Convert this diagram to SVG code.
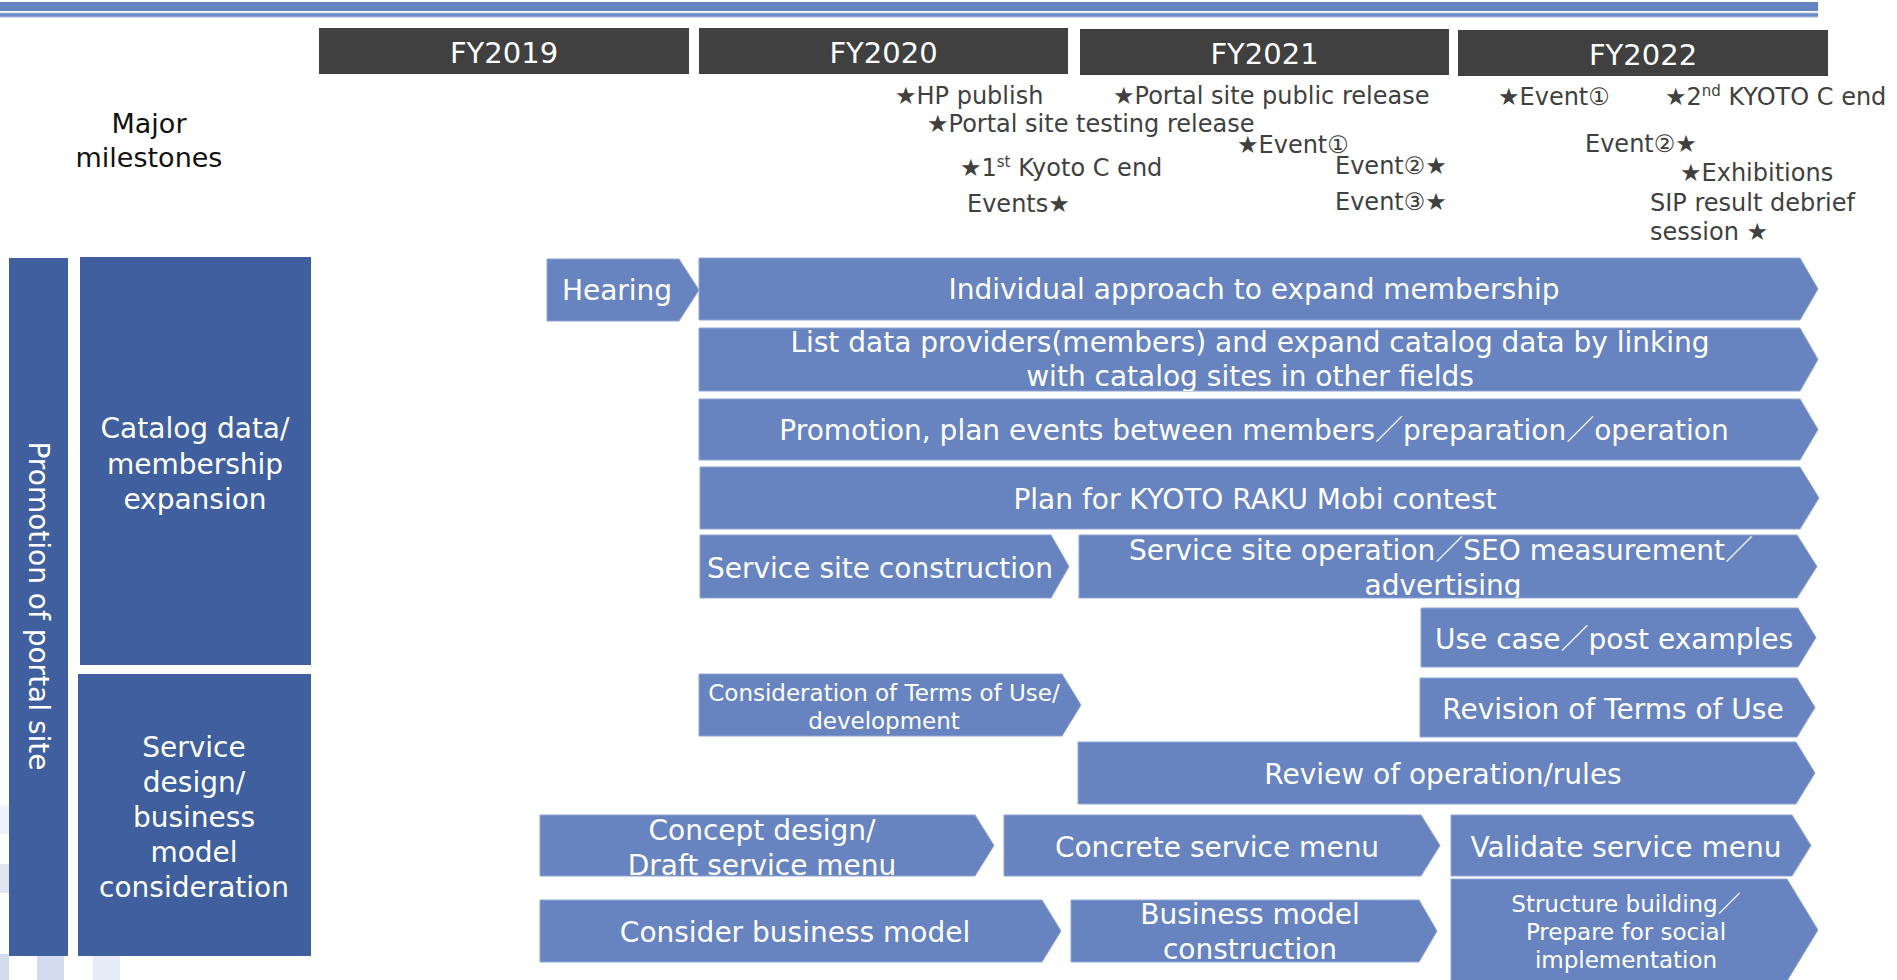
<svg xmlns="http://www.w3.org/2000/svg" width="1897" height="980" viewBox="0 0 1897 980">
  <style>
    .bar { fill: #6784C0; stroke: #8FA4D4; stroke-width: 1; }
    .side { fill: #405F9E; }
    .fy { fill: #404040; }
    .t { font-family: "DejaVu Sans", "Noto Sans CJK JP", sans-serif; }
    .bt { font-size: 28px; fill: #FFFFFF; text-anchor: middle; }
    .bs { font-size: 23px; }
    .fyt { font-size: 29px; fill: #FFFFFF; text-anchor: middle; }
    .ms { font-size: 24px; fill: #404040; }
    .st { font-size: 28px; fill: #FFFFFF; text-anchor: middle; }
    .hd { font-size: 27px; fill: #111111; text-anchor: middle; }
    .sq1 { fill: #EEF2F9; }
    .sq2 { fill: #DFE6F2; }
    .sq3 { fill: #D3DCEE; }
    .sq4 { fill: #E6ECF7; }
  </style>
  <defs>
    <clipPath id="clip-list"><polygon points="699,328 1800,328 1818,359.5 1800,391 699,391"/></clipPath>
    <clipPath id="clip-ssop"><polygon points="1079,535 1797,535 1817,566.5 1797,598 1079,598"/></clipPath>
    <clipPath id="clip-concept"><polygon points="540,815 975,815 994,845.5 975,876 540,876"/></clipPath>
    <clipPath id="clip-bmc"><polygon points="1071,900 1419,900 1437,931 1419,962 1071,962"/></clipPath>
  </defs>

  <rect width="1897" height="980" fill="#FFFFFF"/>

  <!-- faint decorative squares, lower left -->
  <g id="backdrop">
    <rect class="sq1" x="0" y="805" width="9" height="29"/>
    <rect class="sq2" x="0" y="864" width="9" height="29"/>
    <rect class="sq3" x="0" y="954" width="9" height="26"/>
    <rect class="sq3" x="37" y="954" width="27" height="26"/>
    <rect class="sq4" x="93" y="954" width="27" height="26"/>
  </g>

  <!-- header rule -->
  <g id="header-rule">
    <rect x="0" y="2" width="1818" height="9" fill="#6383C1"/>
    <rect x="0" y="12.5" width="1818" height="5" fill="#A9BCE2"/>
    <rect x="0" y="13.5" width="1818" height="3" fill="#6A8ACB"/>
  </g>

  <!-- fiscal year headers -->
  <g id="fy2019"><rect class="fy" x="319" y="28" width="370" height="46"/><text class="t fyt" x="504" y="63">FY2019</text></g>
  <g id="fy2020"><rect class="fy" x="699" y="28" width="369" height="46"/><text class="t fyt" x="883.5" y="63">FY2020</text></g>
  <g id="fy2021"><rect class="fy" x="1080" y="29" width="369" height="46"/><text class="t fyt" x="1264.5" y="64">FY2021</text></g>
  <g id="fy2022"><rect class="fy" x="1458" y="30" width="370" height="46"/><text class="t fyt" x="1643" y="65">FY2022</text></g>

  <!-- milestones -->
  <g id="milestones-label">
    <text class="t hd" x="149" y="133">Major</text>
    <text class="t hd" x="149" y="167">milestones</text>
  </g>
  <g id="milestones">
    <text class="t ms" x="895" y="104">★HP publish</text>
    <text class="t ms" x="927" y="131.5">★Portal site testing release</text>
    <text class="t ms" x="960" y="176">★1<tspan font-size="15" dy="-9">st</tspan><tspan dy="9"> Kyoto C end</tspan></text>
    <text class="t ms" x="967" y="212">Events★</text>
    <text class="t ms" x="1113" y="104">★Portal site public release</text>
    <text class="t ms" x="1237" y="153">★Event①</text>
    <text class="t ms" x="1335" y="174">Event②★</text>
    <text class="t ms" x="1335" y="210">Event③★</text>
    <text class="t ms" x="1498" y="105">★Event①</text>
    <text class="t ms" x="1665" y="105">★2<tspan font-size="15" dy="-9">nd</tspan><tspan dy="9"> KYOTO C end</tspan></text>
    <text class="t ms" x="1585" y="152">Event②★</text>
    <text class="t ms" x="1680" y="181">★Exhibitions</text>
    <text class="t ms" x="1650" y="211">SIP result debrief</text>
    <text class="t ms" x="1650" y="240">session ★</text>
  </g>

  <!-- category columns -->
  <g id="promotion-of-portal-site">
    <rect class="side" x="9" y="258" width="59" height="698"/>
    <text class="t st" transform="translate(28.5,606) rotate(90)" x="0" y="0">Promotion of portal site</text>
  </g>
  <g id="catalog-membership">
    <rect class="side" x="80" y="257" width="231" height="408"/>
    <text class="t st" x="195" y="438">Catalog data/</text>
    <text class="t st" x="195" y="473.5">membership</text>
    <text class="t st" x="195" y="509">expansion</text>
  </g>
  <g id="service-design">
    <rect class="side" x="78" y="674" width="233" height="282"/>
    <text class="t st" x="194" y="757">Service</text>
    <text class="t st" x="194" y="792">design/</text>
    <text class="t st" x="194" y="827">business</text>
    <text class="t st" x="194" y="862">model</text>
    <text class="t st" x="194" y="897">consideration</text>
  </g>

  <!-- activity bars -->
  <g id="hearing">
    <polygon class="bar" points="547,259 679,259 699,290 679,321 547,321"/>
    <text class="t bt" x="617" y="300">Hearing</text>
  </g>
  <g id="individual-approach">
    <polygon class="bar" points="699,258 1800,258 1818,289 1800,320 699,320"/>
    <text class="t bt" x="1254" y="299">Individual approach to expand membership</text>
  </g>
  <g id="list-data-providers">
    <polygon class="bar" points="699,328 1800,328 1818,359.5 1800,391 699,391"/>
    <g clip-path="url(#clip-list)">
      <text class="t bt" x="1250" y="352">List data providers(members) and expand catalog data by linking</text>
      <text class="t bt" x="1250" y="386">with catalog sites in other fields</text>
    </g>
  </g>
  <g id="promotion-events">
    <polygon class="bar" points="699,399 1800,399 1818,429.5 1800,460 699,460"/>
    <text class="t bt" x="1254" y="440">Promotion, plan events between members／preparation／operation</text>
  </g>
  <g id="contest-plan">
    <polygon class="bar" points="700,467 1800,467 1819,498 1800,529 700,529"/>
    <text class="t bt" x="1255" y="509">Plan for KYOTO RAKU Mobi contest</text>
  </g>
  <g id="service-site-construction">
    <polygon class="bar" points="700,535 1051,535 1069,566.5 1051,598 700,598"/>
    <text class="t bt" x="880" y="578">Service site construction</text>
  </g>
  <g id="service-site-operation">
    <polygon class="bar" points="1079,535 1797,535 1817,566.5 1797,598 1079,598"/>
    <g clip-path="url(#clip-ssop)">
      <text class="t bt" x="1441" y="560">Service site operation／SEO measurement／</text>
      <text class="t bt" x="1443" y="595">advertising</text>
    </g>
  </g>
  <g id="use-cases">
    <polygon class="bar" points="1421,608 1798,608 1816,637.5 1798,667 1421,667"/>
    <text class="t bt" x="1614" y="649">Use case／post examples</text>
  </g>
  <g id="terms-consideration">
    <polygon class="bar" points="699,674 1062,674 1081,705 1062,736 699,736"/>
    <text class="t bt bs" x="884" y="701">Consideration of Terms of Use/</text>
    <text class="t bt bs" x="884" y="729">development</text>
  </g>
  <g id="terms-revision">
    <polygon class="bar" points="1420,678 1797,678 1815,707.5 1797,737 1420,737"/>
    <text class="t bt" x="1613" y="719">Revision of Terms of Use</text>
  </g>
  <g id="operation-review">
    <polygon class="bar" points="1078,742 1796,742 1815,773 1796,804 1078,804"/>
    <text class="t bt" x="1443" y="784">Review of operation/rules</text>
  </g>
  <g id="concept-design">
    <polygon class="bar" points="540,815 975,815 994,845.5 975,876 540,876"/>
    <g clip-path="url(#clip-concept)">
      <text class="t bt" x="762" y="840">Concept design/</text>
      <text class="t bt" x="762" y="875">Draft service menu</text>
    </g>
  </g>
  <g id="concrete-menu">
    <polygon class="bar" points="1004,815 1421,815 1440,845.5 1421,876 1004,876"/>
    <text class="t bt" x="1217" y="857">Concrete service menu</text>
  </g>
  <g id="validate-menu">
    <polygon class="bar" points="1451,815 1792,815 1811,845.5 1792,876 1451,876"/>
    <text class="t bt" x="1626" y="857">Validate service menu</text>
  </g>
  <g id="consider-business-model">
    <polygon class="bar" points="540,900 1042,900 1061,931 1042,962 540,962"/>
    <text class="t bt" x="795" y="942">Consider business model</text>
  </g>
  <g id="business-model-construction">
    <polygon class="bar" points="1071,900 1419,900 1437,931 1419,962 1071,962"/>
    <g clip-path="url(#clip-bmc)">
      <text class="t bt" x="1250" y="924">Business model</text>
      <text class="t bt" x="1250" y="959">construction</text>
    </g>
  </g>
  <g id="social-implementation">
    <polygon class="bar" points="1451,879 1787,879 1818,930 1787,981 1451,981"/>
    <text class="t bt bs" x="1626" y="912">Structure building／</text>
    <text class="t bt bs" x="1626" y="940">Prepare for social</text>
    <text class="t bt bs" x="1626" y="968">implementation</text>
  </g>
</svg>
